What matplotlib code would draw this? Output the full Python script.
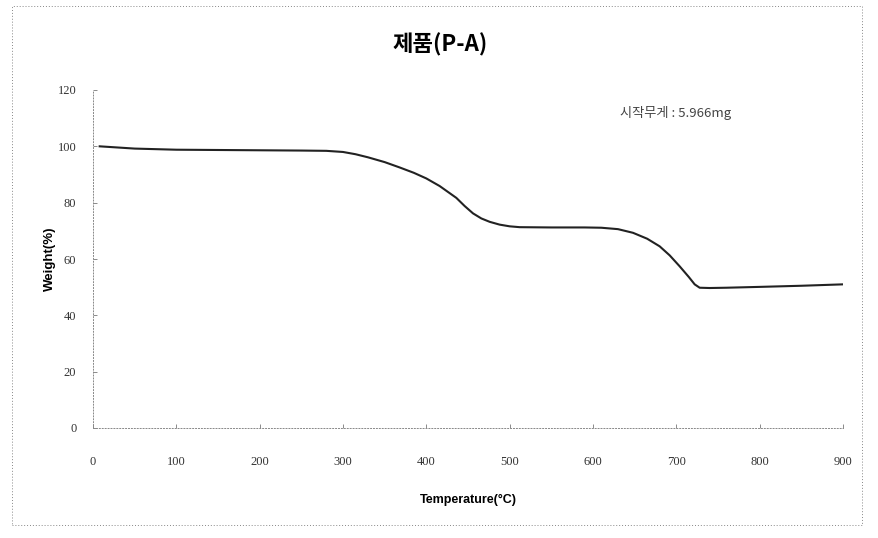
#!/usr/bin/env python3

import matplotlib
matplotlib.use("Agg")
import matplotlib.pyplot as plt
from matplotlib.patches import Rectangle

temperature = [8, 50, 100, 150, 200, 250, 280, 300, 315, 330, 350, 368, 385, 400,
               416, 436, 446, 456, 466, 476, 488, 500, 512, 550, 590, 610, 630,
               648, 665, 680, 692, 704, 715, 722, 728, 740, 760, 800, 850, 900]
weight = [100, 99.2, 98.8, 98.7, 98.6, 98.5, 98.4, 98.0, 97.2, 96.1, 94.4, 92.5,
          90.6, 88.6, 85.9, 81.7, 78.8, 76.2, 74.4, 73.2, 72.2, 71.6, 71.3, 71.2,
          71.2, 71.1, 70.6, 69.3, 67.2, 64.5, 61.3, 57.4, 53.6, 51.0, 49.8, 49.7,
          49.8, 50.1, 50.5, 51.0]

x_ticks = [0, 100, 200, 300, 400, 500, 600, 700, 800, 900]
y_ticks = [0, 20, 40, 60, 80, 100, 120]

title = "제품(P-A)"
note = "시작무게 : 5.966mg"

cjk = ["Noto Sans CJK KR", "DejaVu Sans"]


def main():
    fig = plt.figure(figsize=(8.79, 5.38), dpi=100)
    ax = fig.add_axes([93 / 879, 1 - 428 / 538, 750 / 879, 338 / 538])

    ax.plot(temperature, weight, color="#222222", lw=1.5)

    ax.set_xlim(0, 900)
    ax.set_ylim(0, 120)
    ax.set_xticks(x_ticks)
    ax.set_yticks(y_ticks)
    ax.tick_params(direction="in", length=3, width=0.6, colors="#777777",
                   labelcolor="#333333", labelsize=9)
    ax.tick_params(axis="x", pad=20)
    ax.tick_params(axis="y", pad=12)
    for lab in ax.get_xticklabels() + ax.get_yticklabels():
        lab.set_family("Liberation Serif")

    for side in ["top", "right"]:
        ax.spines[side].set_visible(False)
    for side in ["left", "bottom"]:
        ax.spines[side].set_linestyle((0, (1, 2)))
        ax.spines[side].set_color("#888888")
        ax.spines[side].set_linewidth(0.7)

    ax.set_xlabel("Temperature(°C)", family="Liberation Sans", weight="bold",
                  fontsize=9, labelpad=19)
    ax.set_ylabel("Weight(%)", family="Liberation Sans", weight="bold",
                  fontsize=9.5, labelpad=1)

    fig.text(440 / 879, 1 - 45 / 538, title, family=cjk, weight="bold",
             fontsize=16, ha="center", va="center")
    ax.text(0.703, 0.932, note, family=cjk, fontsize=9.5, color="#444444",
            transform=ax.transAxes, ha="left", va="center")

    border = Rectangle((12 / 879, 1 - 525 / 538), 850 / 879, 519 / 538,
                       transform=fig.transFigure, fill=False, ec="#888888",
                       lw=0.7, ls=(0, (1, 2)))
    fig.patches.append(border)

    fig.savefig("out.png", dpi=100)


if __name__ == "__main__":
    main()
